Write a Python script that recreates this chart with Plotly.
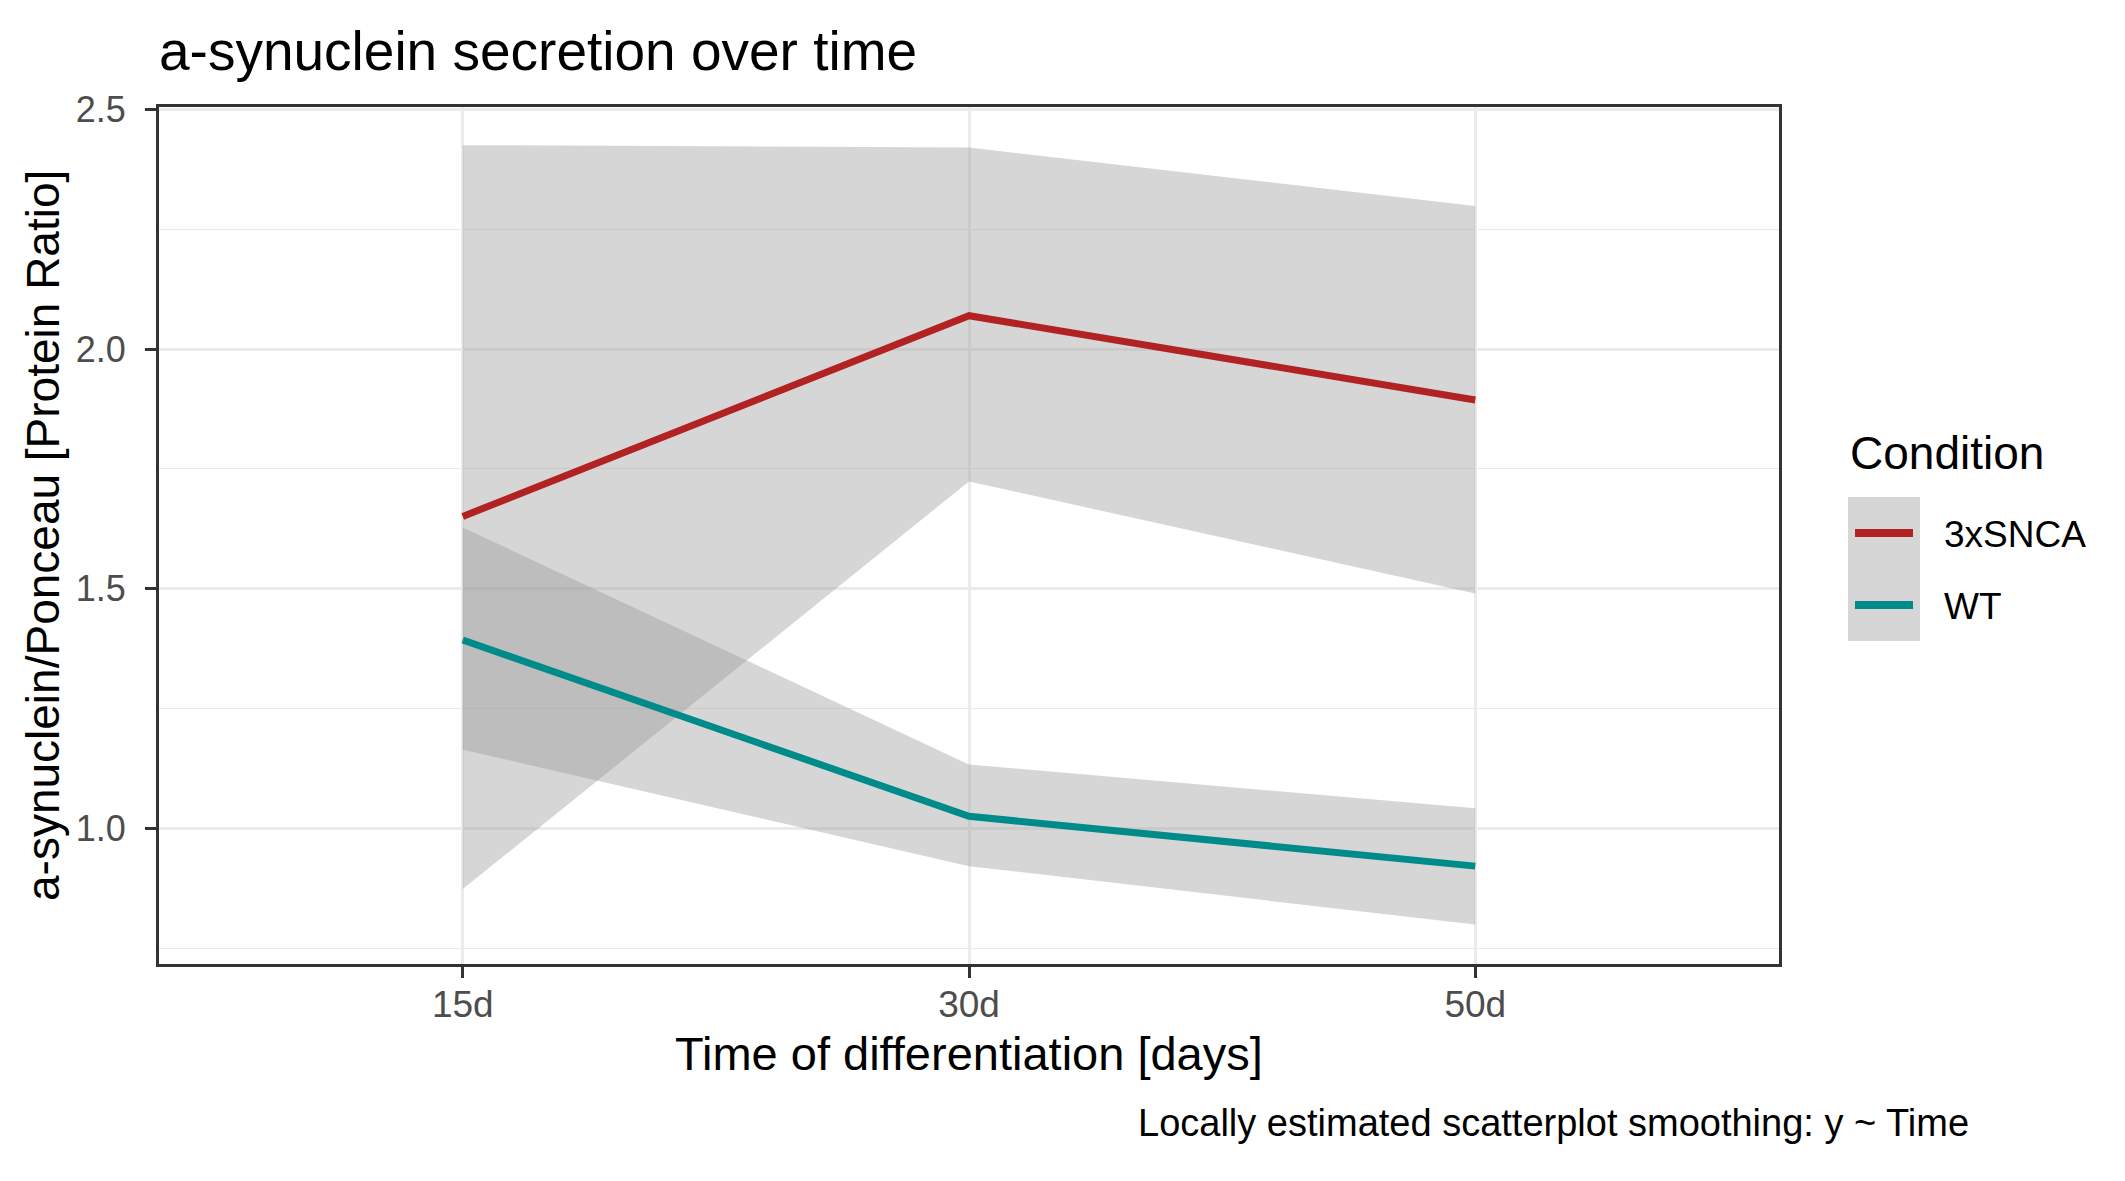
import plotly.graph_objects as go

# ---- data ----
categories = ["15d", "30d", "50d"]
snca_fit = [1.651, 2.070, 1.894]
snca_upper = [2.426, 2.421, 2.299]
snca_lower = [0.873, 1.724, 1.490]
wt_fit = [1.393, 1.025, 0.921]
wt_upper = [1.628, 1.133, 1.042]
wt_lower = [1.164, 0.921, 0.799]
y_ticks = [1.0, 1.5, 2.0, 2.5]
series_names = ["3xSNCA", "WT"]
series_colors = ["#B22222", "#008B8B"]

W, H = 2125, 1181
L, R, T, B = 151, 1771, 99, 956  # panel pixel edges
FONT = "Liberation Sans, Arial, sans-serif"
RIBBON = "rgba(153,153,153,0.4)"


def px(x):
    return (x - L) / (R - L)


def py(y):
    return (B - y) / (B - T)


fig = go.Figure()
for name, col, fit, up, lo in [
    (series_names[0], series_colors[0], snca_fit, snca_upper, snca_lower),
    (series_names[1], series_colors[1], wt_fit, wt_upper, wt_lower),
]:
    fig.add_trace(go.Scatter(
        x=categories + categories[::-1], y=up + lo[::-1],
        fill="toself", fillcolor=RIBBON, mode="lines",
        line=dict(width=0, color=RIBBON), showlegend=False, hoverinfo="skip"))
    fig.add_trace(go.Scatter(
        x=categories, y=fit, mode="lines", name=name,
        line=dict(color=col, width=7), showlegend=False))

fig.update_layout(
    width=W, height=H,
    margin=dict(l=L, r=W - R, t=T, b=H - B, pad=0),
    paper_bgcolor="white", plot_bgcolor="white",
    font=dict(family=FONT, color="black"),
    showlegend=False,
)
fig.update_xaxes(
    type="category", categoryorder="array", categoryarray=categories,
    range=[-0.6, 2.6], showgrid=True, gridcolor="#EBEBEB", gridwidth=2.7,
    showline=True, mirror=True, linecolor="#333333", linewidth=3,
    ticks="outside", ticklen=11, tickwidth=3, tickcolor="#333333",
    tickfont=dict(size=37, color="#4D4D4D", family=FONT), zeroline=False,
    ticklabelstandoff=-5,
)
fig.update_yaxes(
    range=[0.7167, 2.5056], tickvals=y_ticks, tickformat=".1f",
    showgrid=True, gridcolor="#EBEBEB", gridwidth=2.7,
    minor=dict(dtick=0.25, tick0=0, showgrid=True, gridcolor="#EBEBEB", gridwidth=1.4),
    showline=True, mirror=True, linecolor="#333333", linewidth=3,
    ticks="outside", ticklen=11, tickwidth=3, tickcolor="#333333",
    tickfont=dict(size=36, color="#4D4D4D", family=FONT), zeroline=False,
    ticklabelstandoff=12,
)

ann = []
# title
ann.append(dict(text="a-synuclein secretion over time", x=px(149), y=py(43),
                xref="paper", yref="paper", xanchor="left", yanchor="middle",
                showarrow=False, font=dict(size=55, family=FONT, color="black")))
# y-axis title
ann.append(dict(text="a-synuclein/Ponceau [Protein Ratio]", x=px(35), y=py(528),
                xref="paper", yref="paper", xanchor="center", yanchor="middle",
                textangle=-90, showarrow=False, font=dict(size=46, family=FONT, color="black")))
# x-axis title
ann.append(dict(text="Time of differentiation [days]", x=0.5, y=py(1045),
                xref="paper", yref="paper", xanchor="center", yanchor="middle",
                showarrow=False, font=dict(size=47, family=FONT, color="black")))
# caption
ann.append(dict(text="Locally estimated scatterplot smoothing: y ~ Time", x=px(1963), y=py(1115),
                xref="paper", yref="paper", xanchor="right", yanchor="middle",
                showarrow=False, font=dict(size=38, family=FONT, color="black")))
# legend title
ann.append(dict(text="Condition", x=px(1840), y=py(445),
                xref="paper", yref="paper", xanchor="left", yanchor="middle",
                showarrow=False, font=dict(size=46, family=FONT, color="black")))

shapes = []
# legend key background
shapes.append(dict(type="rect", xref="paper", yref="paper",
                   x0=px(1840), x1=px(1912), y0=py(489), y1=py(633),
                   fillcolor="#D6D6D6", line=dict(width=0), layer="above"))
key_y = [525, 597]
for name, col, ky in zip(series_names, series_colors, key_y):
    shapes.append(dict(type="line", xref="paper", yref="paper",
                       x0=px(1847), x1=px(1905), y0=py(ky), y1=py(ky),
                       line=dict(color=col, width=8), layer="above"))
    ann.append(dict(text=name, x=px(1934), y=py(ky + 1),
                    xref="paper", yref="paper", xanchor="left", yanchor="middle",
                    showarrow=False, font=dict(size=37, family=FONT, color="black")))

fig.update_layout(annotations=ann, shapes=shapes)
fig.write_html("out.html")
